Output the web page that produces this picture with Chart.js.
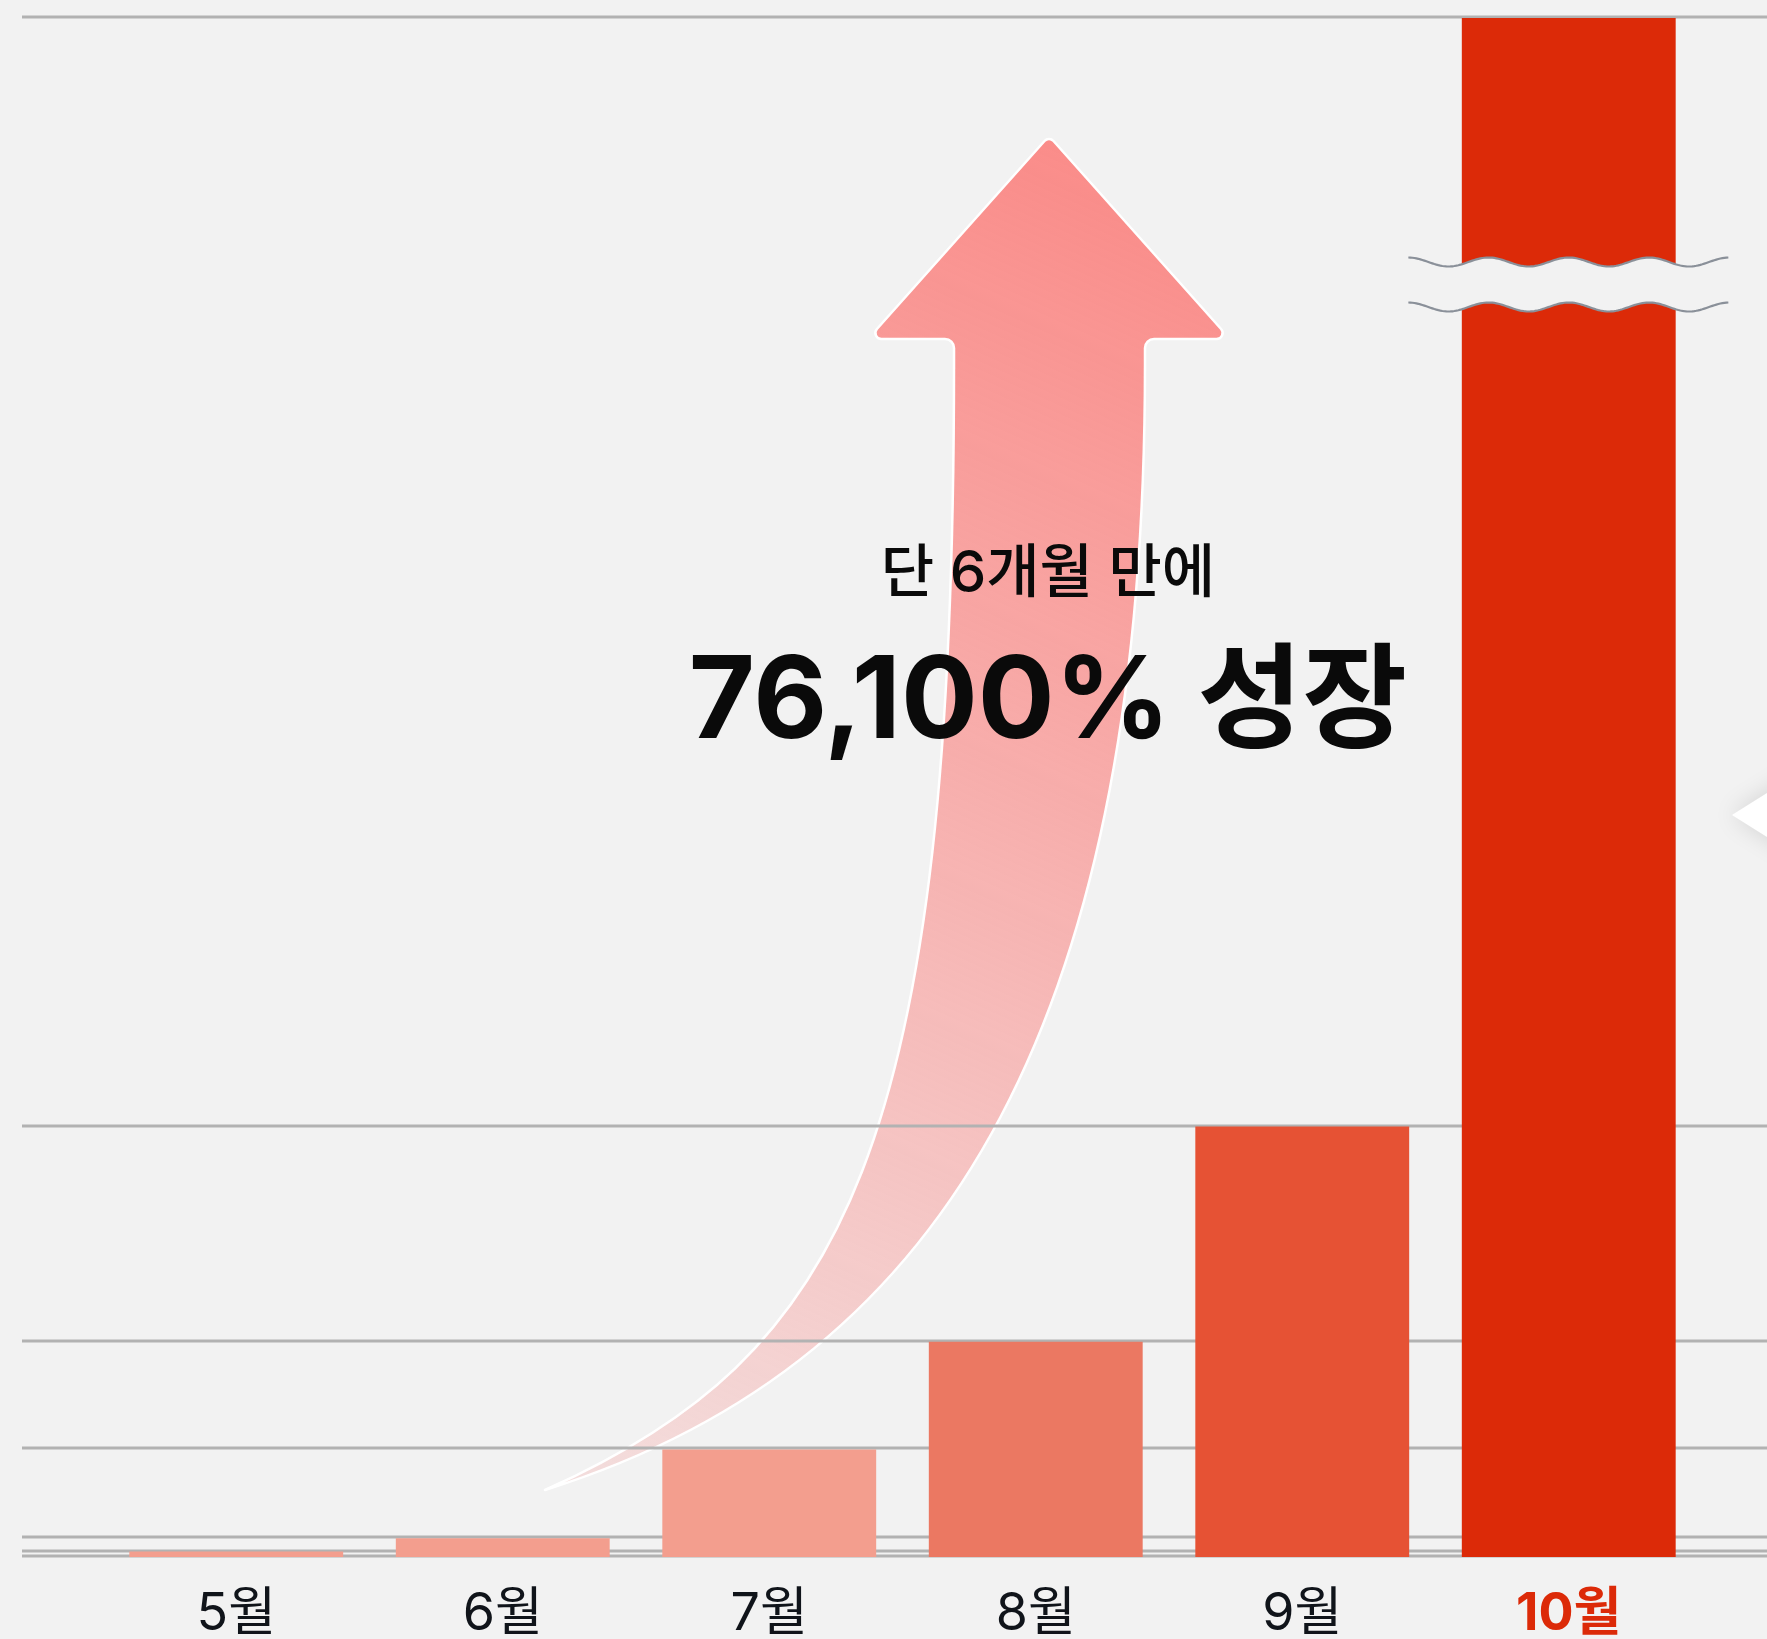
<!DOCTYPE html>
<html lang="ko">
<head>
<meta charset="utf-8">
<script src="https://cdn.jsdelivr.net/npm/chart.js@4.4.1/dist/chart.umd.min.js"></script>
<style>
  html, body { margin: 0; padding: 0; background: #f2f2f2; overflow: hidden; }
  #wrap { width: 1767px; height: 1700px; }
</style>
</head>
<body>
<div id="wrap"><canvas id="growthChart" width="1767" height="1700"></canvas></div>
<script>
// data
const months = ['5월', '6월', '7월', '8월', '9월', '10월'];
const values = [100, 350, 2000, 4000, 8000, 76200];
const barColors = ['#f39e8e', '#f39e8e', '#f39e8e', '#eb7862', '#e65234', '#dc2a08'];
const gridValues = [0, 100, 350, 2000, 4000, 8000, 28600];
const axisMax = 28600;     // 10월 bar is cut off above this
const breakIndex = 5;
const subtitle = '단 6개월 만에';
const headline = '76,100% 성장';

const FONT = "Inter, 'Noto Sans CJK KR', sans-serif";

// grid lines run wider than the plot area
const gridPlugin = {
    id: 'fullGrid',
    beforeDatasetsDraw(chart) {
        const ctx = chart.ctx;
        const y = chart.scales.y;
        ctx.save();
        ctx.strokeStyle = '#b2b2b2';
        ctx.lineWidth = 3;
        gridValues.forEach(v => {
            const py = Math.round(y.getPixelForValue(v)) - 1;
            ctx.beginPath();
            ctx.moveTo(22, py);
            ctx.lineTo(chart.width, py);
            ctx.stroke();
        });
        ctx.restore();
    }
};

// big curved arrow behind the grid
const arrowPlugin = {
    id: 'growthArrow',
    beforeDatasetsDraw(chart) {
        const ctx = chart.ctx;
        const a = chart.chartArea;
        const ox = a.left - 103, oy = a.top - 18;
        const P = (x, y) => [x + ox, y + oy];

        const tip = P(1049, 136), hl = P(868, 339), hr = P(1230, 339);
        const sl = P(954, 339), sr = P(1145, 339);
        const tail = P(545, 1490);

        const grad = ctx.createLinearGradient(...P(1150, 140), ...tail);
        grad.addColorStop(0, 'rgba(250,134,131,0.97)');
        grad.addColorStop(0.3, 'rgba(250,134,131,0.74)');
        grad.addColorStop(1, 'rgba(250,134,131,0.18)');

        ctx.save();
        ctx.beginPath();
        ctx.moveTo(sl[0], sl[1] + 30);
        ctx.arcTo(sl[0], sl[1], sl[0] - 20, sl[1], 9);
        ctx.arcTo(hl[0], hl[1], tip[0], tip[1], 6);
        ctx.arcTo(tip[0], tip[1], hr[0], hr[1], 6);
        ctx.arcTo(hr[0], hr[1], sr[0], sr[1], 6);
        ctx.arcTo(sr[0], sr[1], sr[0], sr[1] + 30, 9);
        ctx.lineTo(sr[0], sr[1] + 25);
        ctx.bezierCurveTo(...P(1145, 1000), ...P(960, 1360), ...tail);
        ctx.bezierCurveTo(...P(845, 1356), ...P(954, 1150), sl[0], sl[1] + 25);
        ctx.closePath();
        ctx.fillStyle = grad;
        ctx.fill();
        ctx.strokeStyle = '#ffffff';
        ctx.lineWidth = 2.5;
        ctx.lineJoin = 'round';
        ctx.stroke();
        ctx.restore();
    }
};

// axis break on the tall bar
const breakPlugin = {
    id: 'axisBreak',
    afterDatasetsDraw(chart) {
        const ctx = chart.ctx;
        const bar = chart.getDatasetMeta(0).data[breakIndex];
        const w = bar.width * 1.5;
        const x0 = bar.x - w / 2, x1 = bar.x + w / 2;
        const yA = chart.chartArea.top + 244, yB = chart.chartArea.top + 289;
        const amp = 4.5, period = w / 4;
        const waveY = (x, yc) => yc - amp * Math.cos(2 * Math.PI * (x - x0) / period);

        ctx.save();
        ctx.beginPath();
        for (let x = x0; x <= x1; x += 2) ctx.lineTo(x, waveY(x, yA));
        for (let x = x1; x >= x0; x -= 2) ctx.lineTo(x, waveY(x, yB));
        ctx.closePath();
        ctx.fillStyle = '#f2f2f2';
        ctx.fill();

        ctx.strokeStyle = '#8a9099';
        ctx.lineWidth = 2.2;
        [yA, yB].forEach(yc => {
            ctx.beginPath();
            for (let x = x0; x <= x1; x += 2) ctx.lineTo(x, waveY(x, yc));
            ctx.stroke();
        });
        ctx.restore();
    }
};

// headline text and the tooltip caret peeking in at the right edge
const textPlugin = {
    id: 'headline',
    afterDraw(chart) {
        const ctx = chart.ctx;
        const a = chart.chartArea;
        const cx = a.left + 945;
        ctx.save();
        ctx.fillStyle = '#0a0a0a';
        ctx.textAlign = 'center';
        ctx.textBaseline = 'alphabetic';
        ctx.font = '500 58px ' + FONT;
        ctx.fillText(subtitle, cx, a.top + 574);
        ctx.font = '700 114px ' + FONT;
        ctx.fillText(headline, cx, a.top + 720);

        ctx.shadowColor = 'rgba(0,0,0,0.13)';
        ctx.shadowBlur = 24;
        ctx.fillStyle = '#ffffff';
        ctx.beginPath();
        ctx.moveTo(chart.width - 35, 815);
        ctx.lineTo(chart.width + 40, 768);
        ctx.lineTo(chart.width + 40, 862);
        ctx.closePath();
        ctx.fill();
        ctx.restore();
    }
};

const ctx = document.getElementById('growthChart').getContext('2d');
const growthChart = new Chart(ctx, {
    type: 'bar',
    data: {
        labels: months,
        datasets: [{
            data: values,
            backgroundColor: barColors,
            borderWidth: 0,
            categoryPercentage: 1,
            barPercentage: 0.8025,
            clip: 0
        }]
    },
    options: {
        responsive: false,
        animation: false,
        devicePixelRatio: 1,
        layout: { padding: { left: 103, right: 65, top: 18, bottom: 0 } },
        plugins: { legend: { display: false }, tooltip: { enabled: false } },
        scales: {
            y: { display: false, min: 0, max: axisMax },
            x: {
                grid: { display: false, drawTicks: false },
                border: { display: false },
                afterFit: scale => { scale.height = 143; },
                ticks: {
                    padding: 26,
                    color: c => c.index === breakIndex ? '#dc2a08' : '#10141a',
                    font: c => ({ family: FONT, size: 52, weight: c.index === breakIndex ? '700' : '400' })
                }
            }
        }
    },
    plugins: [arrowPlugin, gridPlugin, breakPlugin, textPlugin]
});
</script>
</body>
</html>
